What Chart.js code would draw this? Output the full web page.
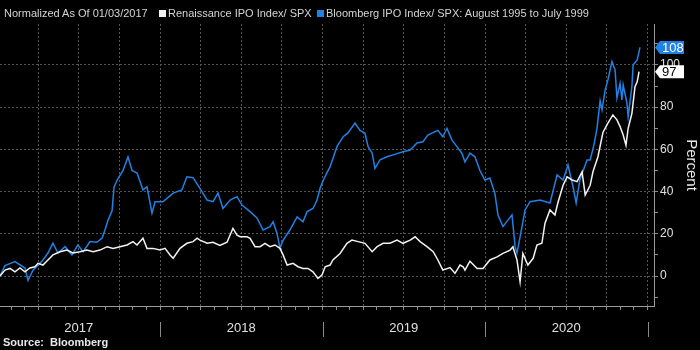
<!DOCTYPE html>
<html>
<head>
<meta charset="utf-8">
<script src="https://cdn.jsdelivr.net/npm/chart.js@4.4.1/dist/chart.umd.min.js"></script>
<style>
  body { margin: 0; background: #000; }
  #wrap { position: relative; width: 700px; height: 350px; background: #000; font-family: "Liberation Sans", Arial, sans-serif; }
  .hdr { position: absolute; top: 7px; font-size: 11px; line-height: 13px; color: #d4d4d4; white-space: nowrap; }
  .sw { position: absolute; top: 10px; width: 7px; height: 7px; }
  .src { position: absolute; left: 3px; top: 336px; font-size: 11px; font-weight: bold; color: #e8e8e8; white-space: nowrap; }
</style>
</head>
<body>
<div id="wrap">
  <canvas id="ipoChart"></canvas>
  <span class="hdr" style="left:4px">Normalized As Of 01/03/2017</span>
  <span class="sw" style="left:159px;background:#f2f2f2"></span>
  <span class="hdr" style="left:168px">Renaissance IPO Index/ SPX</span>
  <span class="sw" style="left:317px;background:#1f82e4"></span>
  <span class="hdr" style="left:326px">Bloomberg IPO Index/ SPX: August 1995 to July 1999</span>
  <div class="src">Source:&nbsp; Bloomberg</div>
</div>
<script>
// weeks since 1 Jan 2017
const renWeeks = [0.8, 2.4, 4.0, 5.6, 7.2, 8.8, 10.4, 12.0, 13.0, 14.6, 16.2, 17.8, 20.1, 22.3, 24.2, 26.5, 28.7, 30.7, 32.9, 35.2,
  37.1, 39.3, 41.6, 43.5, 44.8, 46.7, 48.0, 49.9, 52.2, 53.8, 55.4, 56.4, 58.6, 60.8, 62.8, 64.1, 65.0, 67.3, 69.2, 71.4,
  73.7, 75.6, 76.9, 77.9, 80.1, 81.1, 82.7, 84.3, 85.9, 87.5, 89.1, 90.7, 91.7, 93.0, 94.9, 96.5, 98.1, 99.7, 101.3, 102.9,
  104.2, 105.2, 106.8, 107.7, 110.0, 112.2, 113.8, 115.8, 118.0, 120.3, 121.9, 123.8, 126.0, 128.3, 130.2, 132.5, 134.1, 135.7, 137.9, 139.9,
  141.4, 143.0, 145.3, 146.9, 148.5, 149.5, 150.1, 151.7, 154.0, 155.9, 158.1, 160.4, 162.3, 164.6, 165.5, 166.8, 167.8, 168.7, 170.3, 172.0,
  173.2, 174.8, 175.8, 177.4, 179.0, 179.9, 181.6, 182.9, 184.5, 186.1, 187.7, 188.7, 190.3, 191.2, 192.8, 194.4, 196.0, 197.6, 198.9, 199.9,
  200.9, 201.8, 202.5, 203.7, 204.7, 205.4, 206.0];
const renValues = [0, 2.8, 3.6, 2, 3.8, 2, 3.8, 4.4, 6, 5.2, 7.6, 10, 11.5, 12.3, 10.9, 11.5, 12.3, 11.5, 12.3, 13.9,
  13.1, 13.9, 14.7, 16.3, 14.7, 17.9, 13.1, 13.1, 12.3, 13.1, 10, 8.4, 13.1, 15.5, 16.3, 17.9, 17, 15.5, 16, 14.5,
  16, 22.6, 19.4, 18.6, 18.6, 17.9, 13.9, 13.9, 15.5, 13.9, 14.7, 13.1, 10, 5.2, 6, 4.4, 3.6, 3.6, 2, -1.1,
  0.5, 4.4, 5.2, 7.6, 10.7, 15.5, 17, 16.3, 15.5, 11.5, 13.9, 15.5, 15.5, 17, 15.5, 17, 18.6, 16.3, 13.9, 11.5,
  7.6, 2.8, 4, 1.3, 5.2, 4.4, 2.8, 7, 3.6, 3.6, 7.6, 9.1, 10.7, 12.3, 13.9, 7.6, -2.7, 10.7, 5.2, 8.4,
  14.7, 15.5, 25, 31.3, 28.9, 34.5, 43, 47, 45.5, 44.7, 49.4, 38.4, 43, 49.4, 56.5, 68, 72.4, 76.3, 74, 70.8,
  66.8, 62, 70, 77, 89.7, 92, 96.8];

const bbgWeeks = [0.8, 2.4, 5.6, 8.8, 9.8, 11.4, 14.6, 16.2, 17.8, 19.4, 21.7, 23.9, 25.8, 27.5, 29.7, 31.9, 33.6, 34.5, 35.5, 36.8,
  37.4, 38.4, 40.3, 41.9, 43.2, 44.8, 45.8, 46.7, 48.0, 49.6, 50.6, 53.1, 56.4, 59.2, 60.8, 62.8, 65.0, 67.3, 69.2, 70.8,
  72.4, 74.7, 76.9, 78.5, 81.1, 83.3, 85.3, 87.5, 88.5, 89.7, 90.7, 91.7, 93.9, 96.2, 98.1, 99.4, 101.3, 102.6, 103.6, 104.5,
  105.8, 106.8, 109.0, 111.0, 112.5, 114.8, 116.4, 118.0, 119.0, 120.3, 121.2, 122.8, 125.1, 128.3, 130.2, 132.5, 134.7, 136.6, 138.2, 140.5,
  141.4, 143.0, 144.3, 145.9, 147.5, 149.1, 150.1, 151.7, 153.3, 154.9, 156.5, 158.1, 159.7, 160.7, 162.3, 163.9, 165.2, 166.2, 166.8, 167.8,
  169.4, 171.0, 174.2, 177.4, 179.7, 181.6, 183.2, 184.8, 185.8, 187.0, 189.3, 190.3, 191.5, 192.5, 193.5, 194.1, 195.1, 196.0, 197.3, 198.3,
  198.9, 199.9, 200.5, 200.9, 202.1, 202.5, 203.7, 204.1, 205.4, 206.3];
const bbgValues = [0, 5, 6.8, 3.8, -2, 2.8, 7.6, 10.9, 15.6, 10.9, 13.9, 10, 14.7, 11.5, 16.3, 16, 18, 21.8, 26.5, 31,
  42, 45.5, 50, 56.4, 50, 48.8, 44.7, 40.8, 42.3, 29.8, 35.2, 35.2, 39.3, 40.8, 47, 46.6, 41.5, 36, 35.2, 39.3,
  32, 36, 37.6, 33.6, 30.5, 27.5, 21.8, 23.4, 25.7, 20.4, 13.3, 17, 21.8, 28, 25.7, 30.5, 32, 36, 41.7, 45,
  49, 51.8, 61.3, 66, 67.8, 72.5, 69, 67.6, 61.3, 58.2, 51, 55, 56.5, 58, 58.9, 59.7, 63, 63.6, 66.8, 68.4,
  69, 66, 70, 64.5, 61.3, 58.2, 54, 58.2, 56.5, 50, 45.5, 46.4, 39.2, 28.9, 23.4, 26.5, 28.9, 13.9, 10.9, 18.6,
  31.3, 35.2, 36, 34.6, 47.9, 45.5, 52.6, 42.3, 34.6, 45.5, 55, 55, 62, 70, 83, 78.7, 88, 92.9, 101.6, 97.6,
  84.4, 91.3, 83.4, 90.5, 82, 75.5, 89.7, 100, 102.4, 108.3];

const yearLabels = ["2017", "2018", "2019", "2020"];
const yTickValues = [-10, 0, 10, 20, 30, 40, 50, 60, 70, 80, 90, 100, 110];

const WEEKS_PER_MONTH = 52.18 / 12;
const BLUE = "#1f82e4";
const WHITE = "#f2f2f2";

function toPoints(weeks, values) {
  return weeks.map((w, i) => ({ x: w, y: values[i] }));
}

// year separators in the label band under the axis
const yearSeparators = {
  id: "yearSeparators",
  afterDraw(chart) {
    const ctx = chart.ctx;
    const xs = chart.scales.x;
    ctx.save();
    ctx.strokeStyle = "#8a8a8a";
    ctx.lineWidth = 1;
    for (let k = 1; k <= yearLabels.length; k++) {
      const px = Math.round(xs.getPixelForValue(k * 12 * WEEKS_PER_MONTH)) + 0.5;
      ctx.beginPath();
      ctx.moveTo(px, 322);
      ctx.lineTo(px, 337);
      ctx.stroke();
    }
    ctx.restore();
  },
};

// last-value tags on the right axis
const lastValueTags = {
  id: "lastValueTags",
  afterDraw(chart) {
    const ctx = chart.ctx;
    const ys = chart.scales.y;
    const x0 = chart.chartArea.right;
    ctx.save();
    ctx.font = "13px 'Liberation Sans', Arial, sans-serif";
    ctx.textBaseline = "middle";
    chart.data.datasets.forEach((ds) => {
      const last = ds.data[ds.data.length - 1].y;
      const py = ys.getPixelForValue(last);
      const h = 13;
      ctx.fillStyle = ds.tagFill;
      ctx.beginPath();
      ctx.moveTo(x0 + 1, py);
      ctx.lineTo(x0 + 6, py - h / 2);
      ctx.lineTo(x0 + 30, py - h / 2);
      ctx.lineTo(x0 + 30, py + h / 2);
      ctx.lineTo(x0 + 6, py + h / 2);
      ctx.closePath();
      ctx.fill();
      ctx.fillStyle = ds.tagText;
      ctx.fillText(Math.round(last).toString(), x0 + 8, py + 1);
    });
    ctx.restore();
  },
};

new Chart(document.getElementById("ipoChart").getContext("2d"), {
  type: "line",
  data: {
    datasets: [
      {
        label: "Renaissance IPO Index/ SPX",
        data: toPoints(renWeeks, renValues),
        borderColor: WHITE,
        borderWidth: 1.5,
        pointRadius: 0,
        tension: 0,
        tagFill: "#ffffff",
        tagText: "#000000",
      },
      {
        label: "Bloomberg IPO Index/ SPX: August 1995 to July 1999",
        data: toPoints(bbgWeeks, bbgValues),
        borderColor: BLUE,
        borderWidth: 1.5,
        pointRadius: 0,
        tension: 0,
        tagFill: BLUE,
        tagText: "#ffffff",
      },
    ],
  },
  options: {
    responsive: true,
    maintainAspectRatio: false,
    animation: false,
    layout: { padding: { top: 24, left: 0, right: 0, bottom: 0 } },
    plugins: {
      legend: { display: false },
      tooltip: { enabled: false },
    },
    scales: {
      x: {
        type: "linear",
        min: 0.8,
        max: 210.8,
        afterBuildTicks: (axis) => {
          const ticks = [];
          for (let k = 1; k <= 48; k++) ticks.push({ value: k * WEEKS_PER_MONTH });
          axis.ticks = ticks;
        },
        afterFit: (axis) => { axis.height = 44; },
        ticks: {
          autoSkip: false,
          maxRotation: 0,
          minRotation: 0,
          padding: 11,
          color: "#e0e0e0",
          font: { family: "'Liberation Sans', Arial, sans-serif", size: 13 },
          callback: (value, index) => {
            const k = index + 1;
            return k % 12 === 6 ? yearLabels[(k - 6) / 12] : "";
          },
        },
        grid: {
          color: (c) => ((c.index + 1) % 3 === 0 ? "#555555" : "rgba(0,0,0,0)"),
          tickColor: "#8a8a8a",
          tickLength: 4,
          lineWidth: 1,
        },
        border: { color: "#9a9a9a", dash: [2, 2] },
      },
      y: {
        position: "right",
        min: -14.2,
        max: 119.4,
        afterBuildTicks: (axis) => {
          axis.ticks = yTickValues.map((v) => ({ value: v }));
        },
        afterFit: (axis) => { axis.width = 46; },
        ticks: {
          padding: 2,
          color: "#e0e0e0",
          font: { family: "'Liberation Sans', Arial, sans-serif", size: 12 },
          callback: (value) => (value >= 0 && value <= 100 && value % 20 === 0 ? value : ""),
        },
        grid: {
          color: (c) => {
            const v = c.tick ? c.tick.value : null;
            return v !== null && v >= 0 && v <= 100 && v % 20 === 0 ? "#555555" : "rgba(0,0,0,0)";
          },
          tickColor: "#8a8a8a",
          tickLength: 4,
        },
        border: { color: "#9a9a9a", dash: [2, 2] },
        title: {
          display: true,
          text: "Percent",
          color: "#e8e8e8",
          padding: { top: 0, bottom: 0 },
          font: { family: "'Liberation Sans', Arial, sans-serif", size: 15 },
        },
      },
    },
  },
  plugins: [yearSeparators, lastValueTags],
});
</script>
</body>
</html>
